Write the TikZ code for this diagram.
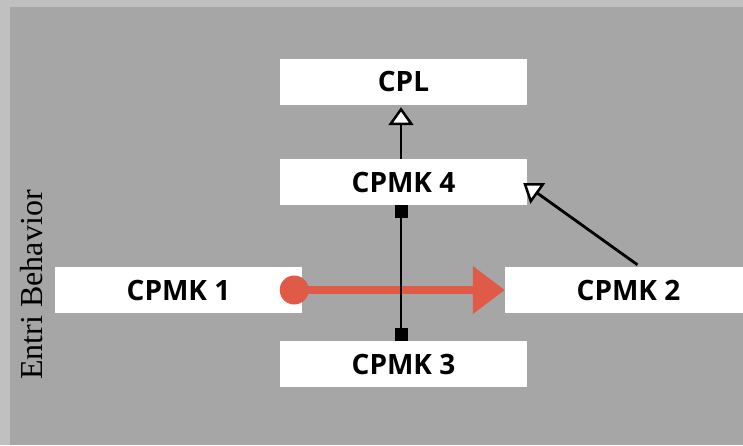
\documentclass[tikz,border=0pt]{standalone}
\usepackage{fontspec}
\setmainfont{Open Sans}
\newfontfamily\serifname{Liberation Serif}
\usetikzlibrary{arrows.meta}
\definecolor{outerbg}{HTML}{C0C0C0}
\definecolor{innerbg}{HTML}{A6A6A6}
\definecolor{redarrow}{HTML}{E05A48}
\begin{document}
\begin{tikzpicture}[x=1pt,y=1pt,
  box/.style={fill=white, draw=none, minimum width=247pt, minimum height=46pt, inner sep=0pt,
    font=\fontsize{28}{30}\selectfont\bfseries, text=black},
  conn/.style={draw=black, line width=2.8pt},
  opentip/.style={-{Triangle[fill=white, length=18pt, width=25pt, line width=2.5pt]}}
]
\useasboundingbox (0,0) rectangle (743,445);
\clip (0,0) rectangle (743,445);
\fill[outerbg] (0,0) rectangle (743,445);
\fill[innerbg] (10,0) rectangle (743,438);

\node[box] (cpl) at (403.5,363) {CPL};
\node[box] (cpmk4) at (403.5,263) {CPMK 4};
\node[box] (cpmk1) at (178.5,155) {CPMK 1};
\node[box] (cpmk2) at (628.5,155) {CPMK 2};
\node[box] (cpmk3) at (403.5,81) {CPMK 3};

\node[rotate=90, anchor=base, font=\serifname\fontsize{32}{36}\selectfont, text=black] (entri) at (42,160) {Entri Behavior};

% red arrow
\coordinate (redstart) at ([xshift=-8pt]cpmk1.east);
\fill[redarrow] (redstart) circle (14.5pt);
\draw[redarrow, line width=7.5pt, -{Triangle[length=32pt, width=46pt]}]
  (redstart) -- (cpmk2.west);

% CPMK3 -- CPMK4
\draw[conn, {Square[length=13pt, width=13pt]}-{Square[length=13pt, width=13pt]}]
  ([xshift=-2.5pt]cpmk3.north) -- ([xshift=-2.5pt]cpmk4.south);

% CPMK4 -> CPL
\draw[conn, opentip] ([xshift=-2.5pt]cpmk4.north) -- ([xshift=-2.5pt,yshift=-2pt]cpl.south);

% CPMK2 -> CPMK4
\draw[conn, opentip] ([xshift=9pt,yshift=2pt]cpmk2.north) -- ([xshift=-4pt,yshift=-1pt]cpmk4.east);
\end{tikzpicture}
\end{document}
